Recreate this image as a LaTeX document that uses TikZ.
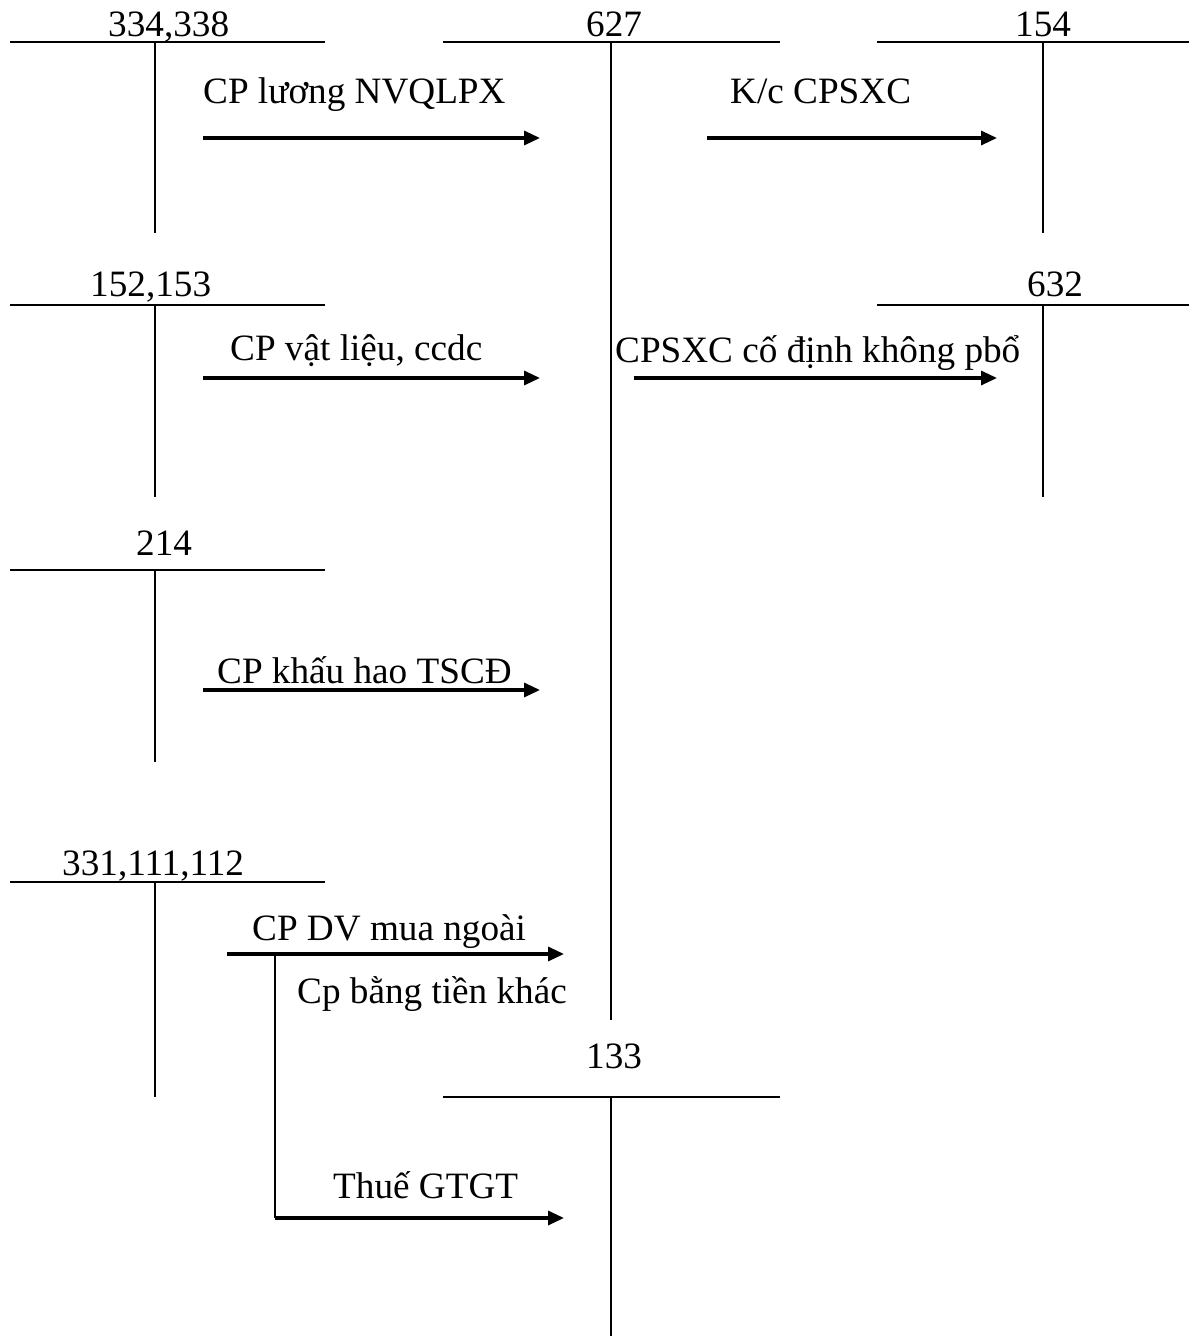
\documentclass[tikz,border=0pt]{standalone}
\usepackage{fontspec}
\setmainfont{Liberation Serif}
\usetikzlibrary{arrows.meta}
\begin{document}
\begin{tikzpicture}[x=1pt,y=-1pt,
  acct/.style={line width=2pt},
  flow/.style={line width=3.2pt,-{Triangle[length=16pt,width=14pt]}},
  lbl/.style={anchor=base west,inner sep=0pt,font=\fontsize{37.2}{40}\selectfont}]
\useasboundingbox (0,0) rectangle (1189,1336);
% T-account 334,338
\coordinate (a1l) at (10,42); \coordinate (a1r) at (325,42);
\coordinate (a1t) at (155,42); \coordinate (a1b) at (155,233);
\draw[acct] (a1l) -- (a1r); \draw[acct] (a1t) -- (a1b);
\node[lbl] (n1) at (108,36) {334,338};
% 627
\coordinate (a2l) at (443,42); \coordinate (a2r) at (780,42);
\coordinate (a2t) at (611,42); \coordinate (a2b) at (611,1020);
\draw[acct] (a2l) -- (a2r); \draw[acct] (a2t) -- (a2b);
\node[lbl] (n2) at (586,36) {627};
% 154
\coordinate (a3l) at (877,42); \coordinate (a3r) at (1189,42);
\coordinate (a3t) at (1043,42); \coordinate (a3b) at (1043,233);
\draw[acct] (a3l) -- (a3r); \draw[acct] (a3t) -- (a3b);
\node[lbl] (n3) at (1015,36) {154};
% 152,153
\coordinate (a4l) at (10,305); \coordinate (a4r) at (325,305);
\coordinate (a4t) at (155,305); \coordinate (a4b) at (155,497);
\draw[acct] (a4l) -- (a4r); \draw[acct] (a4t) -- (a4b);
\node[lbl] (n4) at (90,296) {152,153};
% 632
\coordinate (a5l) at (877,305); \coordinate (a5r) at (1189,305);
\coordinate (a5t) at (1043,305); \coordinate (a5b) at (1043,497);
\draw[acct] (a5l) -- (a5r); \draw[acct] (a5t) -- (a5b);
\node[lbl] (n5) at (1027,296) {632};
% 214
\coordinate (a6l) at (10,570); \coordinate (a6r) at (325,570);
\coordinate (a6t) at (155,570); \coordinate (a6b) at (155,762);
\draw[acct] (a6l) -- (a6r); \draw[acct] (a6t) -- (a6b);
\node[lbl] (n6) at (136,555) {214};
% 331,111,112
\coordinate (a7l) at (10,882); \coordinate (a7r) at (325,882);
\coordinate (a7t) at (155,882); \coordinate (a7b) at (155,1097);
\draw[acct] (a7l) -- (a7r); \draw[acct] (a7t) -- (a7b);
\node[lbl] (n7) at (62,875) {331,111,112};
% 133
\coordinate (a8l) at (443,1097); \coordinate (a8r) at (780,1097);
\coordinate (a8t) at (611,1097); \coordinate (a8b) at (611,1336);
\draw[acct] (a8l) -- (a8r); \draw[acct] (a8t) -- (a8b);
\node[lbl] (n8) at (586,1068) {133};
% flows
\coordinate (f1s) at (203,138); \coordinate (f1e) at (540,138);
\draw[flow] (f1s) -- (f1e);
\node[lbl] (l1) at (203,103) {CP lương NVQLPX};
\coordinate (f2s) at (707,138); \coordinate (f2e) at (997,138);
\draw[flow] (f2s) -- (f2e);
\node[lbl] (l2) at (730,103) {K/c CPSXC};
\coordinate (f3s) at (203,378); \coordinate (f3e) at (540,378);
\draw[flow] (f3s) -- (f3e);
\node[lbl] (l3) at (230,360) {CP vật liệu, ccdc};
\coordinate (f4s) at (634,378); \coordinate (f4e) at (997,378);
\draw[flow] (f4s) -- (f4e);
\node[lbl] (l4) at (615,362) {CPSXC cố định không pbổ};
\coordinate (f5s) at (203,690); \coordinate (f5e) at (540,690);
\draw[flow] (f5s) -- (f5e);
\node[lbl] (l5) at (217,683) {CP khấu hao TSCĐ};
\coordinate (f6s) at (227,954); \coordinate (f6e) at (564,954);
\draw[flow] (f6s) -- (f6e);
\node[lbl] (l6) at (252,940) {CP DV mua ngoài};
\node[lbl] (l7) at (297,1003) {Cp bằng tiền khác};
\coordinate (f7s) at (275,954); \coordinate (f7c) at (275,1218); \coordinate (f7e) at (564,1218);
\draw[acct] (f7s) -- (f7c);
\draw[flow] (f7c) -- (f7e);
\node[lbl] (l8) at (333,1198) {Thuế GTGT};
\end{tikzpicture}
\end{document}
